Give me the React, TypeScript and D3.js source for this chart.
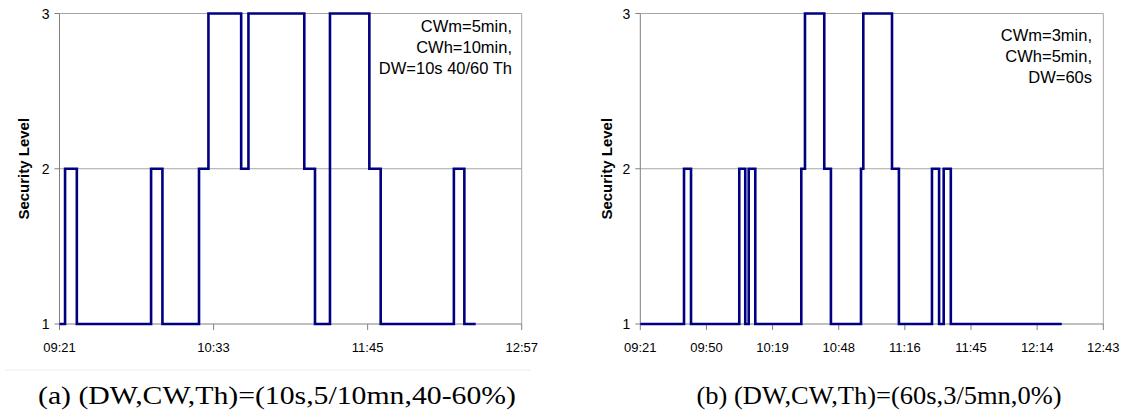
import React from "react";
import * as d3 from "d3";

// ---------- data ----------
const levelTicks = [1, 2, 3];

// (a) DW=10s, CW=5/10min, Th=40-60%
const leftDomain = ["09:21:36", "12:57:36"];
const leftTicks = ["09:21:36", "10:33:36", "11:45:36", "12:57:36"];
const leftTimes = [
  "09:21:36", "09:24:12", "09:29:42", "10:04:24", "10:09:42", "10:26:48",
  "10:31:12", "10:46:30", "10:49:54", "11:16:00", "11:21:00", "11:28:00",
  "11:46:24", "11:51:42", "12:25:54", "12:30:48", "12:36:06",
];
const leftLevels = [1, 2, 1, 2, 1, 2, 3, 2, 3, 2, 1, 3, 2, 1, 2, 1, 1];
const leftNotes = ["CWm=5min,", "CWh=10min,", "DW=10s 40/60 Th"];
const leftCaption = "(a)  (DW,CW,Th)=(10s,5/10mn,40-60%)";

// (b) DW=60s, CW=3/5min, Th=0%
const rightDomain = ["09:21:36", "12:43:12"];
const rightTicks = [
  "09:21:36", "09:50:24", "10:19:12", "10:48:00",
  "11:16:48", "11:45:36", "12:14:24", "12:43:12",
];
const rightTimes = [
  "09:21:36", "09:40:38", "09:43:41", "10:04:42", "10:07:18", "10:08:48",
  "10:11:40", "10:31:42", "10:33:18", "10:41:42", "10:44:36", "10:57:42",
  "10:58:42", "11:11:12", "11:14:12", "11:28:36", "11:31:42", "11:33:42",
  "11:36:48", "12:25:06",
];
const rightLevels = [1, 2, 1, 2, 1, 2, 1, 2, 3, 2, 1, 2, 3, 2, 1, 2, 1, 2, 1, 1];
const rightNotes = ["CWm=3min,", "CWh=5min,", "DW=60s"];
const rightCaption = "(b)  (DW,CW,Th)=(60s,3/5mn,0%)";

// ---------- drawing ----------
const parse = d3.timeParse("%H:%M:%S");
const fmt = d3.timeFormat("%H:%M");
const SANS = "'Liberation Sans', Arial, sans-serif";
const SERIF = "'Liberation Serif', 'DejaVu Serif', serif";

type PanelProps = {
  x0: number;
  x1: number;
  domain: string[];
  ticks: string[];
  times: string[];
  levels: number[];
  notes: string[];
  noteX: number;
  noteY0: number;
  labelX: number;
  caption: string;
  captionX: number;
  captionLen: number;
};

function Panel(p: PanelProps) {
  const x = d3
    .scaleTime()
    .domain(p.domain.map((s) => parse(s) as Date))
    .range([p.x0, p.x1]);
  const y = d3.scaleLinear().domain([1, 3]).range([324, 13.5]);
  const pts: [number, number][] = p.times.map((t, i) => [
    x(parse(t) as Date),
    y(p.levels[i]),
  ]);
  const line = d3.line().curve(d3.curveStepAfter)(pts) || "";
  const yTop = y(3);
  const yBot = y(1);
  return (
    <g>
      {/* gridlines */}
      {levelTicks.slice(1).map((v) => (
        <line key={"g" + v} x1={p.x0} x2={p.x1} y1={y(v)} y2={y(v)} stroke="#a6a6a6" strokeWidth={1} />
      ))}
      {/* right border */}
      <line x1={p.x1} x2={p.x1} y1={yTop} y2={yBot} stroke="#a6a6a6" strokeWidth={1} />
      {/* axes */}
      <line x1={p.x0} x2={p.x0} y1={yTop} y2={yBot} stroke="#808080" strokeWidth={1} />
      <line x1={p.x0} x2={p.x1} y1={yBot} y2={yBot} stroke="#808080" strokeWidth={1} />
      {levelTicks.map((v) => (
        <g key={"y" + v}>
          <line x1={p.x0 - 5} x2={p.x0} y1={y(v)} y2={y(v)} stroke="#808080" />
          <text x={p.x0 - 10} y={y(v)} dy="0.36em" textAnchor="end" fontFamily={SANS} fontSize={14} fill="#000">
            {v}
          </text>
        </g>
      ))}
      {p.ticks.map((t) => {
        const xv = x(parse(t) as Date);
        return (
          <g key={"x" + t}>
            <line x1={xv} x2={xv} y1={yBot} y2={yBot + 6} stroke="#808080" />
            <text x={xv} y={352} textAnchor="middle" fontFamily={SANS} fontSize={13} fill="#000">
              {fmt(parse(t) as Date)}
            </text>
          </g>
        );
      })}
      <text
        transform={`translate(${p.labelX},${(yTop + yBot) / 2}) rotate(-90)`}
        textAnchor="middle"
        fontFamily={SANS}
        fontWeight="bold"
        fontSize={15}
        fill="#000"
      >
        Security Level
      </text>
      <path d={line} fill="none" stroke="#000080" strokeWidth={2.6} strokeLinejoin="miter" />
      {p.notes.map((n, i) => (
        <text key={n} x={p.noteX} y={p.noteY0 + i * 21} textAnchor="end" fontFamily={SANS} fontSize={16.5} fill="#000">
          {n}
        </text>
      ))}
      <text
        x={p.captionX}
        y={404}
        textAnchor="middle"
        fontFamily={SERIF}
        fontSize={25}
        fill="#000"
        textLength={p.captionLen}
        lengthAdjust="spacingAndGlyphs"
      >
        {p.caption}
      </text>
    </g>
  );
}

export default function App() {
  return (
    <svg
      width={1127}
      height={417}
      style={{ position: "absolute", left: 0, top: 0, background: "#fff" }}
    >
      <rect width={1127} height={417} fill="#fff" />
      <line x1={5} x2={530} y1={370} y2={370} stroke="#ededed" strokeWidth={1} />
      <Panel
        x0={59.5}
        x1={521.7}
        domain={leftDomain}
        ticks={leftTicks}
        times={leftTimes}
        levels={leftLevels}
        notes={leftNotes}
        noteX={512}
        noteY0={32}
        labelX={29}
        caption={leftCaption}
        captionX={277}
        captionLen={478}
      />
      <Panel
        x0={640.3}
        x1={1103.3}
        domain={rightDomain}
        ticks={rightTicks}
        times={rightTimes}
        levels={rightLevels}
        notes={rightNotes}
        noteX={1092}
        noteY0={41}
        labelX={611.5}
        caption={rightCaption}
        captionX={879}
        captionLen={365}
      />
    </svg>
  );
}
